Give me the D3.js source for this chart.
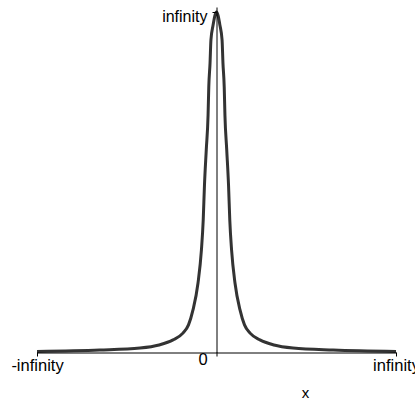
<!DOCTYPE html>
<html>
<head>
<meta charset="utf-8">
<script src="https://cdn.jsdelivr.net/npm/d3@7"></script>
<style>
  html, body { margin: 0; padding: 0; background: #fff; }
  svg { display: block; }
  text { font-family: "Liberation Sans", Arial, sans-serif; fill: #000; }
</style>
</head>
<body>
<svg id="chart" width="415" height="403"></svg>
<script>
// Compactified axes: -1 .. 1 on x stands for -infinity .. infinity,
// 0 .. 1 on y stands for 0 .. infinity.
const xTickValues = [-1, 0, 1];
const xTickLabels = ["-infinity", "0", "infinity"];
const yTickValues = [1];
const yTickLabels = ["infinity"];
const xTitle = "x";

// Curve samples (compactified units)
const curveX = [
  -1.0, -0.65, -0.426, -0.32, -0.242, -0.187, -0.156, -0.131, -0.103, -0.084,
  -0.074, -0.067, -0.057, -0.047, -0.043, -0.036, -0.031, -0.0195, 0,
  0.0195, 0.031, 0.036, 0.043, 0.047, 0.057, 0.067, 0.074, 0.084,
  0.103, 0.131, 0.156, 0.187, 0.242, 0.32, 0.426, 0.65, 1.0
];
const curveY = [
  0.003, 0.007, 0.013, 0.022, 0.037, 0.057, 0.081, 0.125, 0.204, 0.301,
  0.389, 0.492, 0.595, 0.697, 0.780, 0.850, 0.918, 0.960, 1.0,
  0.960, 0.918, 0.850, 0.780, 0.697, 0.595, 0.492, 0.389, 0.301,
  0.204, 0.125, 0.081, 0.057, 0.037, 0.022, 0.013, 0.007, 0.003
];

const svg = d3.select("#chart");
const x = d3.scaleLinear().domain([-1, 1]).range([37, 396]);
const y = d3.scaleLinear().domain([0, 1]).range([352.5, 12]);

// curve
const pts = curveX.map((v, i) => [v, curveY[i]]);
svg.append("path")
  .datum(pts)
  .attr("fill", "none")
  .attr("stroke", "#333")
  .attr("stroke-width", 3)
  .attr("stroke-linejoin", "miter")
  .attr("d", d3.line().x(d => x(d[0])).y(d => y(d[1])).curve(d3.curveMonotoneX));

// x axis
const xAxis = svg.append("g")
  .attr("transform", `translate(0,${y(0)})`)
  .call(d3.axisBottom(x).tickValues(xTickValues)
    .tickFormat((d, i) => xTickLabels[i]).tickSize(4).tickSizeOuter(0).tickPadding(3));
xAxis.select(".domain").attr("stroke", "#000");
xAxis.selectAll(".tick line").attr("stroke", "#000");
xAxis.selectAll(".tick text")
  .attr("font-size", 16.5)
  .attr("font-family", "Liberation Sans, Arial, sans-serif")
  .attr("dx", d => d === 0 ? -14 : 0)
  .attr("dy", d => d === 0 ? "0.35em" : "0.71em");

// y axis at x = 0
const yAxis = svg.append("g")
  .attr("transform", `translate(${x(0)},0)`)
  .call(d3.axisLeft(y.copy().domain([0, 1.015]).range([352.5, 7])).tickValues([]).tickSizeOuter(0));
yAxis.select(".domain").attr("stroke", "#000");
const yTicks = svg.append("g")
  .attr("transform", `translate(${x(0)},0)`)
  .call(d3.axisLeft(y).tickValues(yTickValues)
    .tickFormat((d, i) => yTickLabels[i]).tickSize(4).tickPadding(5));
yTicks.select(".domain").remove();
yTicks.selectAll(".tick line").attr("stroke", "#000");
yTicks.selectAll(".tick text")
  .attr("font-size", 16)
  .attr("font-family", "Liberation Sans, Arial, sans-serif")
  .attr("dy", "0.6em");

// x title
svg.append("text")
  .attr("x", 305.5)
  .attr("y", 398)
  .attr("text-anchor", "middle")
  .attr("font-size", 15)
  .text(xTitle);
</script>
</body>
</html>
